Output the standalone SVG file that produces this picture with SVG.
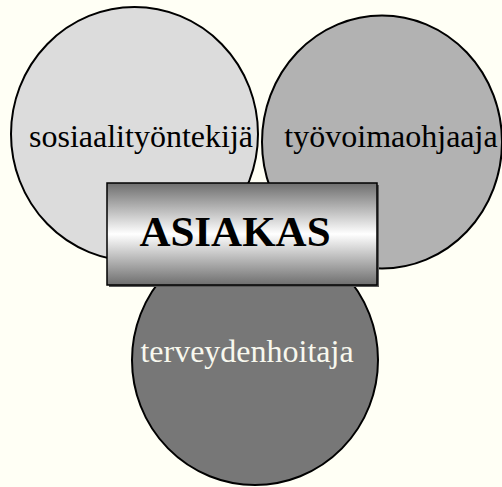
<svg xmlns="http://www.w3.org/2000/svg" width="502" height="487" viewBox="0 0 502 487">
  <style>
    .ring { stroke: #000; stroke-width: 2; }
    .lbl { font-family: "Liberation Serif", "Times New Roman", serif; font-size: 32px; text-anchor: middle; }
    .title { font-family: "Liberation Serif", "Times New Roman", serif; font-size: 43px; font-weight: bold; text-anchor: middle; fill: #000; }
  </style>
  <defs>
    <linearGradient id="barGrad" x1="0" y1="0" x2="0" y2="1">
      <stop offset="0" stop-color="#6e6e6e"/>
      <stop offset="0.5" stop-color="#ffffff"/>
      <stop offset="1" stop-color="#6e6e6e"/>
    </linearGradient>
  </defs>
  <rect x="0" y="0" width="502" height="487" fill="#fffff5"/>
  <g id="sosiaalityontekija">
    <ellipse class="ring" cx="134.5" cy="134" rx="123.5" ry="127" fill="#dcdcdc"/>
    <text class="lbl" x="141" y="147" fill="#000">sosiaalityöntekijä</text>
  </g>
  <g id="tyovoimaohjaaja">
    <ellipse class="ring" cx="382" cy="142" rx="120" ry="126.5" fill="#b2b2b2"/>
    <text class="lbl" x="391" y="147" fill="#000">työvoimaohjaaja</text>
  </g>
  <g id="terveydenhoitaja">
    <ellipse class="ring" cx="255" cy="360" rx="123" ry="125" fill="#777777"/>
    <text class="lbl" x="247" y="362" fill="#f8f8ee">terveydenhoitaja</text>
  </g>
  <g id="asiakas">
    <rect x="109" y="185" width="270" height="102" fill="#5a5a5a"/>
    <rect x="107" y="183" width="270" height="102" fill="url(#barGrad)" stroke="#000" stroke-width="1.5"/>
    <text class="title" x="235" y="246">ASIAKAS</text>
  </g>
  <g id="connectors"/>
</svg>
